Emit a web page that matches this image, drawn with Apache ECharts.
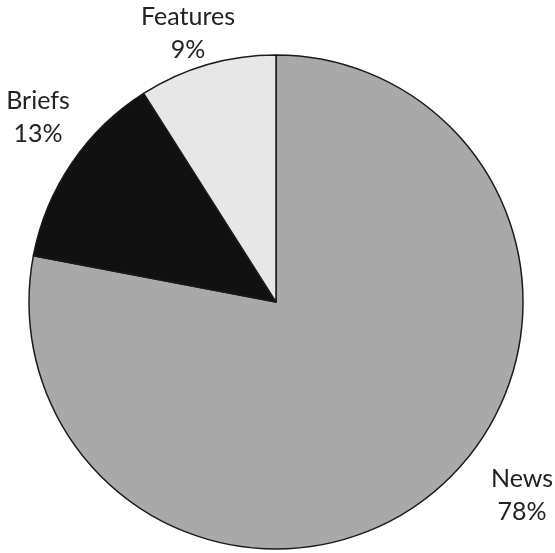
<!DOCTYPE html>
<html>
<head>
<meta charset="utf-8">
<script src="https://cdn.jsdelivr.net/npm/echarts@6/dist/echarts.min.js"></script>
<style>
html,body{margin:0;padding:0;background:#fff;}
#chart{width:555px;height:553px;}
</style>
</head>
<body>
<div id="chart"></div>
<script>
var categories = ['News', 'Briefs', 'Features'];
var values = [78, 13, 9];

var sliceColors = ['#a9a9a9', '#111111', '#e7e7e7'];
var labelAnchors = [[522, 495], [38, 117], [188, 33]];

var chart = echarts.init(document.getElementById('chart'), null, {renderer: 'canvas'});
var data = categories.map(function (c, i) {
  return { name: c, value: values[i], itemStyle: { color: sliceColors[i] } };
});
chart.setOption({
  backgroundColor: '#ffffff',
  animation: false,
  series: [{
    type: 'pie',
    center: [276, 302],
    radius: 247,
    startAngle: 90,
    clockwise: true,
    data: data,
    itemStyle: { borderColor: '#1a1a1a', borderWidth: 1.5 },
    label: {
      show: true,
      position: 'inside',
      overflow: 'none',
      formatter: '{b}\n{c}%',
      fontFamily: 'Lato',
      fontSize: 25,
      lineHeight: 33,
      color: '#222',
      align: 'center'
    },
    labelLine: { show: false },
    labelLayout: function (params) {
      var p = labelAnchors[params.dataIndex];
      return { x: p[0], y: p[1], align: 'center', verticalAlign: 'middle' };
    },
    emphasis: { disabled: true }
  }]
});
</script>
</body>
</html>
